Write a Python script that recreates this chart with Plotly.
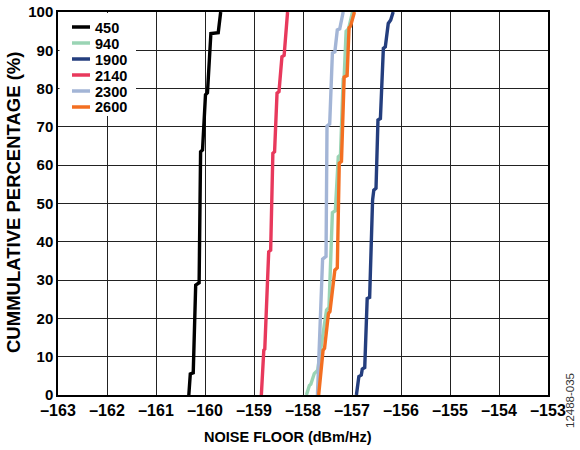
import plotly.graph_objects as go

# ---- data ----
series_names = ["450", "940", "1900", "2140", "2300", "2600"]
series_colors = ["#000000", "#9AD4B4", "#243E7E", "#E8395C", "#A3B5D6", "#F36F21"]

x_450 = [-160.33, -160.30, -160.24, -160.19, -160.12, -160.09, -160.05, -159.99, -159.95, -159.88, -159.73, -159.68]
y_450 = [0, 5.5, 5.8, 28.7, 29.3, 63.5, 64.0, 78.4, 78.9, 94.4, 94.6, 100]

x_940 = [-157.93, -157.87, -157.84, -157.77, -157.70, -157.52, -157.47, -157.40, -157.34, -157.28, -157.235, -157.18, -157.16, -157.12, -157.07, -156.99]
y_940 = [0, 2.5, 2.8, 5.6, 6.5, 22.2, 22.9, 47.6, 48.1, 62.2, 62.7, 82.5, 83.0, 95.0, 95.6, 100]

x_1900 = [-156.91, -156.86, -156.81, -156.79, -156.74, -156.69, -156.64, -156.58, -156.555, -156.51, -156.47, -156.42, -156.36, -156.32, -156.26, -156.21, -156.16]
y_1900 = [0, 4.8, 5.2, 6.8, 7.2, 25.2, 25.5, 50.9, 53.5, 54.0, 71.8, 72.2, 90.5, 90.9, 97.0, 97.9, 100]

x_2140 = [-158.85, -158.80, -158.78, -158.70, -158.66, -158.615, -158.58, -158.53, -158.49, -158.43, -158.385, -158.315]
y_2140 = [0, 11.7, 12.0, 37.4, 37.8, 63.1, 63.5, 78.8, 79.2, 88.3, 88.7, 100]

x_2300 = [-157.705, -157.60, -157.53, -157.51, -157.455, -157.40, -157.35, -157.30, -157.25, -157.18]
y_2300 = [0, 35.5, 36.2, 70.2, 70.8, 89.3, 89.6, 95.3, 95.6, 100]

x_2600 = [-157.68, -157.59, -157.56, -157.48, -157.45, -157.35, -157.30, -157.26, -157.215, -157.16, -157.10, -157.06, -157.03, -156.95]
y_2600 = [0, 11.7, 12.2, 21.3, 21.8, 32.6, 33.2, 60.5, 61.0, 83.0, 83.4, 95.9, 96.3, 100]

x_ticks = [-163, -162, -161, -160, -159, -158, -157, -156, -155, -154, -153]
x_tick_labels = ["\u2013163", "\u2013162", "\u2013161", "\u2013160", "\u2013159", "\u2013158",
                 "\u2013157", "\u2013156", "\u2013155", "\u2013154", "\u2013153"]
y_ticks = [0, 10, 20, 30, 40, 50, 60, 70, 80, 90, 100]

xs = [x_450, x_940, x_1900, x_2140, x_2300, x_2600]
ys = [y_450, y_940, y_1900, y_2140, y_2300, y_2600]

FONT = "Liberation Sans, Arial, Helvetica, sans-serif"
W, H = 580, 450
ML, MR, MT, MB = 58, 32, 12, 55
PW, PH = W - ML - MR, H - MT - MB


def px(xp):
    return (xp - ML) / PW


def py(yp):
    return 1 - (yp - MT) / PH


fig = go.Figure()
for name, color, xv, yv in zip(series_names, series_colors, xs, ys):
    fig.add_trace(go.Scatter(x=xv, y=yv, mode="lines", name=name,
                             line=dict(color=color, width=3.4), showlegend=False,
                             hoverinfo="skip"))

# legend drawn as a white panel with line samples and labels (top-left of plot)
shapes = [dict(type="rect", xref="paper", yref="paper",
               x0=px(59.5), x1=px(136), y0=py(116), y1=py(13),
               fillcolor="white", line=dict(width=0), layer="above")]
annotations = []
leg_y0, leg_dy = 27, 16
for i, (name, color) in enumerate(zip(series_names, series_colors)):
    yc = leg_y0 + i * leg_dy
    shapes.append(dict(type="line", xref="paper", yref="paper",
                       x0=px(72), x1=px(90), y0=py(yc), y1=py(yc),
                       line=dict(color=color, width=3.5), layer="above"))
    annotations.append(dict(text=name, xref="paper", yref="paper",
                            x=px(93), y=py(yc + 0.5), xanchor="left", yanchor="middle",
                            showarrow=False,
                            font=dict(family=FONT, size=14.5, weight="bold", color="#000000")))

annotations += [
    dict(text="NOISE FLOOR (dBm/Hz)", xref="paper", yref="paper",
         x=px(288), y=py(437), xanchor="center", yanchor="middle", showarrow=False,
         font=dict(family=FONT, size=14.5, weight="bold", color="#000000")),
    dict(text="CUMMULATIVE PERCENTAGE (%)", xref="paper", yref="paper",
         x=px(14), y=py(203), xanchor="center", yanchor="middle", showarrow=False,
         textangle=-90,
         font=dict(family=FONT, size=18.5, weight="bold", color="#000000")),
    dict(text="12488-035", xref="paper", yref="paper",
         x=px(570), y=py(401), xanchor="center", yanchor="middle", showarrow=False,
         textangle=-90,
         font=dict(family=FONT, size=11.5, color="#333333")),
]

fig.update_layout(
    width=W, height=H,
    margin=dict(l=ML, r=MR, t=MT, b=MB),
    paper_bgcolor="white", plot_bgcolor="white",
    font=dict(family=FONT, color="#000000"),
    showlegend=False,
    hovermode=False,
    shapes=shapes,
    annotations=annotations,
    xaxis=dict(range=[-163, -153], tickvals=x_ticks, ticktext=x_tick_labels,
               showgrid=True, gridcolor="#222222", gridwidth=1,
               showline=True, linecolor="#000000", linewidth=1.5, mirror=True,
               ticks="", zeroline=False, automargin=False,
               tickfont=dict(family=FONT, size=16, weight="bold", color="#000000")),
    yaxis=dict(range=[0, 100], tickvals=y_ticks,
               showgrid=True, gridcolor="#222222", gridwidth=1,
               showline=True, linecolor="#000000", linewidth=1.5, mirror=True,
               ticks="", zeroline=False, automargin=False,
               tickfont=dict(family=FONT, size=15, weight="bold", color="#000000")),
)

fig.write_html("out.html",
               config={"displayModeBar": False},
               post_script="document.body.style.margin='0px';document.body.style.padding='0px';")
